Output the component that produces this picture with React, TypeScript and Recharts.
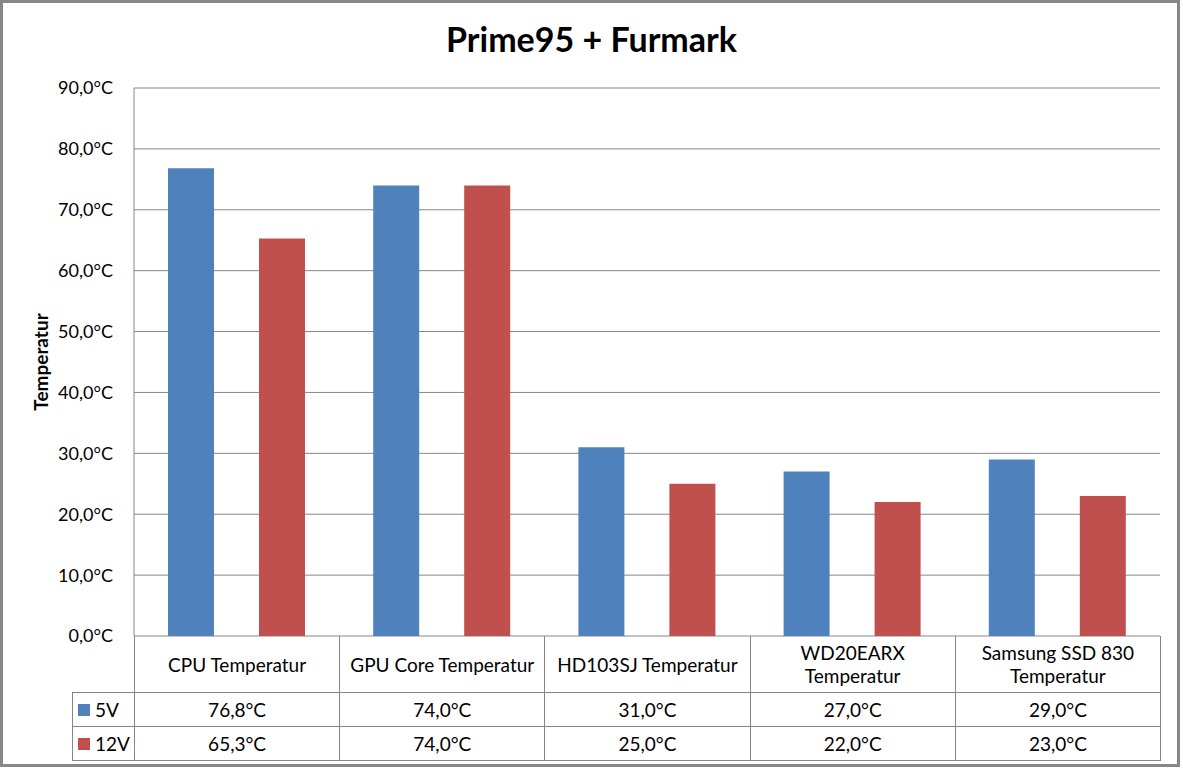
import React from "react";
import { BarChart, Bar, XAxis, YAxis, CartesianGrid } from "recharts";

const categories = [
  "CPU Temperatur",
  "GPU Core Temperatur",
  "HD103SJ Temperatur",
  "WD20EARX Temperatur",
  "Samsung SSD 830 Temperatur",
];
const categoryLines = [
  ["CPU Temperatur"],
  ["GPU Core Temperatur"],
  ["HD103SJ Temperatur"],
  ["WD20EARX", "Temperatur"],
  ["Samsung SSD 830", "Temperatur"],
];
const values5V = [76.8, 74.0, 31.0, 27.0, 29.0];
const values12V = [65.3, 74.0, 25.0, 22.0, 23.0];
const yTicks = [0, 10, 20, 30, 40, 50, 60, 70, 80, 90];

const BLUE = "#4F81BD";
const RED = "#C0504D";
const LINE = "#868686";
const FONT = "Lato, 'Open Sans', sans-serif";

const data = categories.map((name, i) => ({ name, v5: values5V[i], v12: values12V[i] }));
const fmt = (v: number) => v.toFixed(1).replace(".", ",") + "°C";

const series = [
  { label: "5V", color: BLUE, values: values5V },
  { label: "12V", color: RED, values: values12V },
];

// plot area geometry
const PLOT_LEFT = 134;
const PLOT_RIGHT = 1160;
const PLOT_TOP = 88;
const PLOT_BOTTOM = 636;
const COL_W = (PLOT_RIGHT - PLOT_LEFT) / categories.length;
const HEAD_H = 56;
const ROW_H = 34;
const ROW_LEFT = 72;

export default function App() {
  const cell: React.CSSProperties = {
    position: "absolute",
    boxSizing: "border-box",
    display: "flex",
    alignItems: "center",
    justifyContent: "center",
    textAlign: "center",
    fontSize: 19,
    lineHeight: "23px",
    color: "#000",
  };
  return (
    <div
      style={{
        position: "absolute",
        left: 0,
        top: 0,
        width: 1180,
        height: 767,
        boxSizing: "border-box",
        border: "3px solid #878787",
        background: "#fff",
        fontFamily: FONT,
        overflow: "hidden",
      }}
    >
      <div style={{ position: "absolute", left: -3, top: -3, width: 1183, height: 770 }}>
        <BarChart
          width={1183}
          height={770}
          data={data}
          margin={{ top: PLOT_TOP, right: 1183 - PLOT_RIGHT, bottom: 770 - PLOT_BOTTOM, left: 0 }}
          barSize={46}
          barGap={45}
        >
          <CartesianGrid horizontal vertical={false} stroke={LINE} />
          <XAxis dataKey="name" hide />
          <YAxis
            width={PLOT_LEFT}
            domain={[0, 90]}
            ticks={yTicks}
            tickFormatter={fmt}
            tickLine={false}
            tickSize={0}
            tickMargin={21}
            axisLine={{ stroke: LINE }}
            tick={{ fill: "#000", fontSize: 18, fontFamily: FONT }}
          />
          <Bar dataKey="v5" fill={BLUE} isAnimationActive={false} />
          <Bar dataKey="v12" fill={RED} isAnimationActive={false} />
        </BarChart>

        <div
          style={{
            position: "absolute",
            left: 0,
            top: 18,
            width: 1183,
            textAlign: "center",
            fontSize: 34,
            fontWeight: 700,
          }}
        >
          Prime95 + Furmark
        </div>

        <div
          style={{
            position: "absolute",
            left: 40,
            top: (PLOT_TOP + PLOT_BOTTOM) / 2,
            transform: "translate(-50%, -50%) rotate(-90deg)",
            fontSize: 19,
            fontWeight: 700,
            whiteSpace: "nowrap",
          }}
        >
          Temperatur
        </div>

        {/* data table: category header row */}
        {categoryLines.map((lines, i) => (
          <div
            key={"h" + i}
            style={{
              ...cell,
              left: PLOT_LEFT + i * COL_W,
              top: PLOT_BOTTOM,
              width: COL_W + 1,
              height: HEAD_H + 1,
              borderLeft: `1px solid ${LINE}`,
              borderRight: `1px solid ${LINE}`,
              borderBottom: `1px solid ${LINE}`,
              flexDirection: "column",
            }}
          >
            {lines.map((l) => (
              <div key={l}>{l}</div>
            ))}
          </div>
        ))}

        {/* data table: series rows */}
        {series.map((s, r) => (
          <React.Fragment key={s.label}>
            <div
              style={{
                ...cell,
                justifyContent: "flex-start",
                left: ROW_LEFT,
                top: PLOT_BOTTOM + HEAD_H + r * ROW_H,
                width: PLOT_LEFT - ROW_LEFT + 1,
                height: ROW_H + 1,
                border: `1px solid ${LINE}`,
                paddingLeft: 5,
              }}
            >
              <span
                style={{ display: "inline-block", width: 12, height: 12, background: s.color, marginRight: 5 }}
              />
              {s.label}
            </div>
            {s.values.map((v, i) => (
              <div
                key={i}
                style={{
                  ...cell,
                  left: PLOT_LEFT + i * COL_W,
                  top: PLOT_BOTTOM + HEAD_H + r * ROW_H,
                  width: COL_W + 1,
                  height: ROW_H + 1,
                  border: `1px solid ${LINE}`,
                }}
              >
                {fmt(v)}
              </div>
            ))}
          </React.Fragment>
        ))}
      </div>
    </div>
  );
}
